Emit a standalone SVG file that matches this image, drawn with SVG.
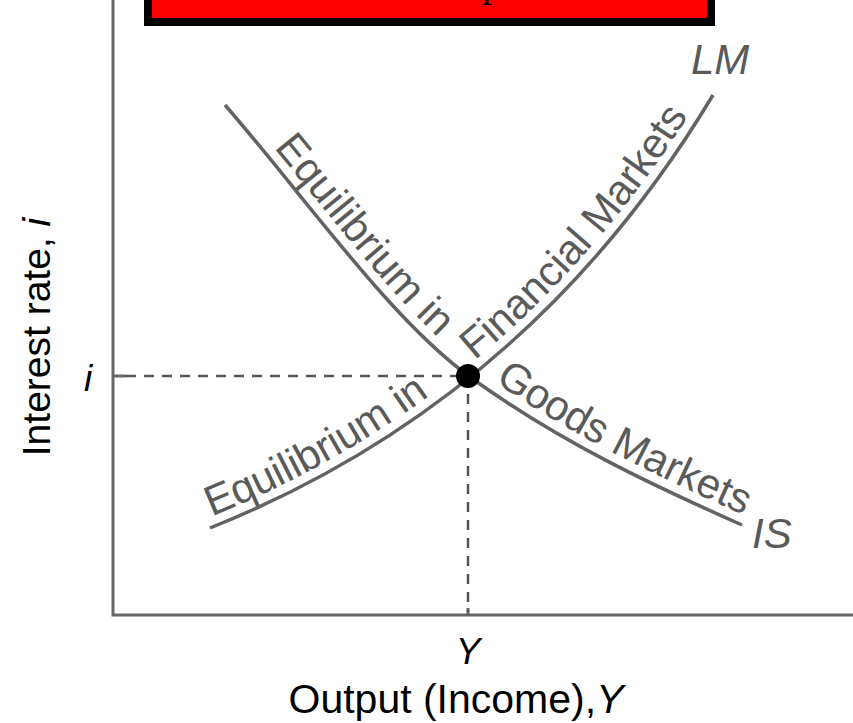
<svg xmlns="http://www.w3.org/2000/svg" width="853" height="723" viewBox="0 0 853 723">
<style>
.axis{fill:none;stroke:#666;stroke-width:3}
.curve{fill:none;stroke:#636363;stroke-width:3.5}
.dash{fill:none;stroke:#555;stroke-width:2.5;stroke-dasharray:10 8}
.lbl{font-family:"Liberation Sans",Arial,sans-serif;fill:#000}
.clbl{font-family:"Liberation Sans",Arial,sans-serif;fill:#5a5a5a;font-size:42px}
.it{font-style:italic}
</style>
<defs>
<path id="isPath" d="M225,105 C305,197 390,319 470,377 C560,442 652,485 742,525"/>
<path id="isText" d="M225,105 C305,197 390,319 470,377 C560,442 652,485 742,525 L830,562"/>
<path id="lmPath" d="M210,528 Q530,400 713,95"/>
<path id="lmText" d="M210,528 Q530,400 713,95 L760,15"/>
</defs>
<g id="title-box">
<rect x="148" y="-30" width="563" height="52" fill="#ff0000" stroke="#000" stroke-width="8"/>
<text x="482" y="-4" font-family="Liberation Serif,serif" font-size="40" fill="#000">p</text>
</g>
<g id="axes">
<path class="axis" d="M113,0 V615 H853"/>
<path class="axis" d="M113,376 H126"/>
<path class="axis" d="M468,608 V615"/>
</g>
<g id="connectors">
<path class="dash" d="M126,376 H468 V612"/>
</g>
<g id="IS">
<use href="#isPath" class="curve"/>
<text class="clbl"><textPath href="#isText" startOffset="64"><tspan dy="-10">Equilibrium in</tspan></textPath></text>
<text class="clbl"><textPath href="#isText" startOffset="390"><tspan dy="-10">Goods Markets</tspan></textPath></text>
<text class="clbl it" x="752" y="548" font-size="40">IS</text>
</g>
<g id="LM">
<use href="#lmPath" class="curve"/>
<text class="clbl"><textPath href="#lmText" startOffset="6"><tspan dy="-10">Equilibrium in</tspan></textPath></text>
<text class="clbl"><textPath href="#lmText" startOffset="316"><tspan dy="-10">Financial Markets</tspan></textPath></text>
<text class="clbl it" x="691" y="74" font-size="40">LM</text>
</g>
<g id="equilibrium">
<circle cx="468" cy="376" r="12" fill="#000"/>
</g>
<g id="labels">
<text class="lbl it" x="88" y="391" font-size="37" text-anchor="middle">i</text>
<text class="lbl it" x="468" y="664" font-size="37" text-anchor="middle">Y</text>
<text class="lbl" x="456" y="713" font-size="41" text-anchor="middle">Output (Income),<tspan class="it">Y</tspan></text>
<text class="lbl" transform="translate(50,337) rotate(-90)" font-size="39" text-anchor="middle">Interest rate, <tspan class="it">i</tspan></text>
</g>
</svg>
